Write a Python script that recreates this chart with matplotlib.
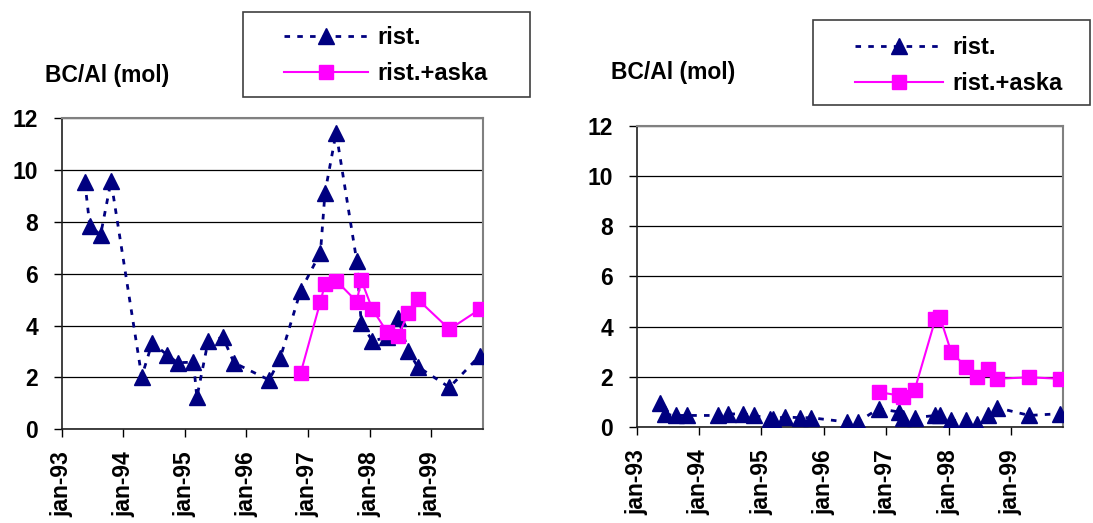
import matplotlib
matplotlib.use('Agg')
import matplotlib.pyplot as plt
from matplotlib.patches import Rectangle
import pandas as pd

plt.rcParams['font.family'] = ['Liberation Sans', 'DejaVu Sans']
plt.rcParams['font.weight'] = 'bold'

# sampling dates (shared by both panels)
dates = pd.to_datetime([
    '1993-05-18', '1993-06-16', '1993-08-19', '1993-10-20', '1994-04-20',
    '1994-06-21', '1994-09-18', '1994-11-19', '1995-02-21', '1995-03-13',
    '1995-05-19', '1995-08-15', '1995-10-19', '1996-05-15', '1996-07-19',
    '1996-11-17', '1997-03-15', '1997-04-11', '1997-06-16', '1997-10-16',
    '1997-11-12', '1998-01-17', '1998-04-16', '1998-06-19', '1998-08-18',
    '1998-10-12', '1999-04-19', '1999-10-16'])
aska_dates = dates[15:]

left_rist = [9.53, 7.85, 7.5, 9.58, 2.03, 3.34, 2.87, 2.57, 2.59, 1.23,
             3.41, 3.55, 2.57, 1.90, 2.74, 5.34, 6.82, 9.13, 11.45, 6.5,
             4.09, 3.41, 3.55, 4.28, 3.02, 2.42, 1.62, 2.84]
left_aska = [2.16, 4.93, 5.6, 5.74, 4.93, 5.76, 4.63, 3.74, 3.6, 4.5,
             5.02, 3.86, 4.63]

right_rist = [0.94, 0.5, 0.46, 0.46, 0.46, 0.52, 0.52, 0.46, 0.33, 0.33,
              0.40, 0.37, 0.37, 0.2, 0.2, 0.73, 0.6, 0.37, 0.37, 0.46,
              0.46, 0.26, 0.26, 0.1, 0.46, 0.77, 0.46, 0.53]
right_aska = [1.39, 1.26, 1.19, 1.46, 4.3, 4.37, 2.98, 2.38, 2.0, 2.31,
              1.92, 1.98, 1.92]

year_ticks = pd.to_datetime(['1993-01-01', '1994-01-01', '1995-01-01', '1996-01-01',
                             '1997-01-01', '1998-01-01', '1999-01-01'])
tick_labels = ['jan-93', 'jan-94', 'jan-95', 'jan-96', 'jan-97', 'jan-98', 'jan-99']
xmin, xmax = pd.Timestamp('1993-01-01'), pd.Timestamp('1999-11-04')

W, H = 1093, 523
fig = plt.figure(figsize=(W / 100, H / 100), dpi=100)


def px_box(x0, x1, ytop, ybot):
    return [x0 / W, 1 - ybot / H, (x1 - x0) / W, (ybot - ytop) / H]


def panel(rect, rist, aska, fs):
    ax = fig.add_axes(rect)
    ax.plot(dates, rist, color='#000080', lw=2, ls=(0, (2, 2.6)),
            marker='^', ms=11, mec='#000080', label='rist.', zorder=3)
    ax.plot(aska_dates, aska, color='#FF00FF', lw=1.5, ls='-',
            marker='s', ms=10, mec='#FF00FF', label='rist.+aska', zorder=4)
    ax.set_ylim(0, 12)
    ax.set_yticks(range(0, 13, 2))
    ax.set_xlim(xmin, xmax)
    ax.set_xticks(year_ticks)
    ax.set_xticklabels(tick_labels, rotation=90, va='top', ha='center')
    ax.tick_params(axis='y', labelsize=fs, length=6, width=1, pad=11)
    ax.tick_params(axis='x', labelsize=fs, length=6, width=1, pad=10)
    for lab in ax.get_xticklabels() + ax.get_yticklabels():
        lab.set_fontweight('bold')
    ax.grid(axis='y', color='black', lw=0.9)
    ax.set_axisbelow(True)
    for s in ['top', 'right']:
        ax.spines[s].set_color('#808080')
        ax.spines[s].set_linewidth(1.5)
    for s in ['left', 'bottom']:
        ax.spines[s].set_color('#202020')
        ax.spines[s].set_linewidth(1.2)
    return ax


ax1 = panel(px_box(61.8, 483, 118.3, 429.3), left_rist, left_aska, 16.5)
ax2 = panel(px_box(636.7, 1063.3, 125.7, 427), right_rist, right_aska, 16.5)

fig.text(45 / W, 1 - 75 / H, 'BC/Al (mol)', fontsize=16.5, fontweight='bold', va='center')
fig.text(611 / W, 1 - 72 / H, 'BC/Al (mol)', fontsize=16.5, fontweight='bold', va='center')


def legend_box(ax, x0, x1, ytop, ybot, hx, hy, hlen):
    fig.patches.append(Rectangle((x0 / W, 1 - ybot / H), (x1 - x0) / W, (ybot - ytop) / H,
                                 transform=fig.transFigure, fill=False,
                                 edgecolor='#404040', lw=1.2))
    ax.legend(loc='upper left', bbox_to_anchor=(hx / W, 1 - hy / H),
              bbox_transform=fig.transFigure, frameon=False, borderpad=0,
              handlelength=hlen, handletextpad=0.4, labelspacing=0.55,
              numpoints=1, prop={'weight': 'bold', 'size': 17})


legend_box(ax1, 243.3, 530, 12.3, 96.7, 272, 14, 3.55)
legend_box(ax2, 812.7, 1090, 20, 105, 843, 24, 3.75)

fig.savefig('out.png', dpi=100)
